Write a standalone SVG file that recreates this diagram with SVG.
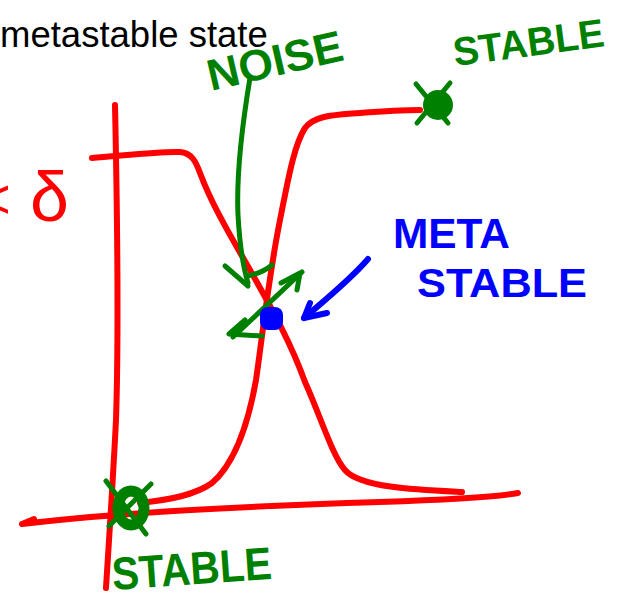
<svg xmlns="http://www.w3.org/2000/svg" width="617" height="599" viewBox="0 0 617 599">
<style>
.red{fill:none;stroke:#ff0000;stroke-width:6;stroke-linecap:round;stroke-linejoin:round}
.grn{fill:none;stroke:#008000;stroke-width:5;stroke-linecap:round;stroke-linejoin:round}
.blu{fill:none;stroke:#0000ff;stroke-width:6;stroke-linecap:round;stroke-linejoin:round}
.hand{font-family:"Liberation Sans","DejaVu Sans",sans-serif;font-weight:bold}
.g{fill:#008000}
.b{fill:#0000ff}
.r{fill:#ff0000}
.title{font-family:"Liberation Sans",Arial,sans-serif;font-size:36.5px;fill:#000}
</style>
<rect width="617" height="599" fill="#fff"/>
<text class="title" x="0" y="47">metastable state</text>

<g id="axes">
  <path class="red" d="M115,105 C117,200 119,330 116,420 C113,480 109,540 106,588"/>
  <path class="red" d="M22,524 L34,519 M22,524 C120,512 250,506 380,502 C440,500 490,498 518,493" />
</g>

<g id="curves">
  <path class="red" d="M92,158 C120,156 160,151 180,152 C192,153 196,162 200,173 C212,205 230,235 250,270 C268,302 290,340 305,382 C320,415 332,455 345,470 C360,488 420,490 462,492"/>
  <path class="red" d="M140,503 C170,500 195,495 212,483 C235,463 248,425 256,380 C262,340 268,280 280,220 C288,180 294,145 305,128 C315,115 335,115 360,113 C385,111 405,110 420,110"/>
</g>

<g id="stable-top">
  <circle cx="438" cy="105" r="15" fill="#008000"/>
  <path class="grn" stroke-width="6" d="M416,84 L448,123 M450,83 L417,123"/>
  <text class="hand g" font-size="40" textLength="152" lengthAdjust="spacingAndGlyphs" transform="translate(455,66) rotate(-7.5)">STABLE</text>
</g>

<g id="stable-bottom">
  <ellipse cx="131" cy="508" rx="13" ry="17" fill="none" stroke="#008000" stroke-width="11"/>
  <path class="grn" stroke-width="6" d="M106,481 L146,534 M151,484 L109,526"/>
  <text class="hand g" font-size="46" textLength="160" lengthAdjust="spacingAndGlyphs" transform="translate(113,590) rotate(-4)">STABLE</text>
</g>

<g id="noise">
  <text class="hand g" font-size="44" textLength="138" lengthAdjust="spacingAndGlyphs" transform="translate(211,91) rotate(-13)">NOISE</text>
  <path class="grn" d="M250,78 C243,120 236,170 238,215 C240,250 244,270 248,283"/>
  <path class="grn" stroke-width="7" d="M225,266 L248,286"/>
  <path class="grn" d="M247,276 C258,274 266,270 272,265"/>
</g>

<g id="perturbation">
  <path class="grn" stroke-width="6" d="M233,337 L302,272"/>
  <path class="grn" stroke-width="8" d="M281,283 L300,273 L297,290"/>
  <path class="grn" stroke-width="7" d="M245,320 L229,334 L262,336"/>
</g>

<g id="metastable">
  <rect x="260" y="307" width="23" height="23" rx="8" fill="#0000ff"/>
  <path class="blu" d="M368,259 C350,280 325,300 304,318"/>
  <path class="blu" d="M310,303 L304,318 L327,313"/>
  <text class="hand b" font-size="42" textLength="117" lengthAdjust="spacingAndGlyphs" x="393" y="248">META</text>
  <text class="hand b" font-size="40" textLength="170" lengthAdjust="spacingAndGlyphs" x="417" y="297">STABLE</text>
</g>

<g id="delta-label">
  <text class="r" font-family="Liberation Sans, sans-serif" font-size="56" x="-22" y="218">&lt;</text>
  <text class="r" font-family="Liberation Sans, sans-serif" font-size="70" x="30" y="221">δ</text>
</g>
</svg>
